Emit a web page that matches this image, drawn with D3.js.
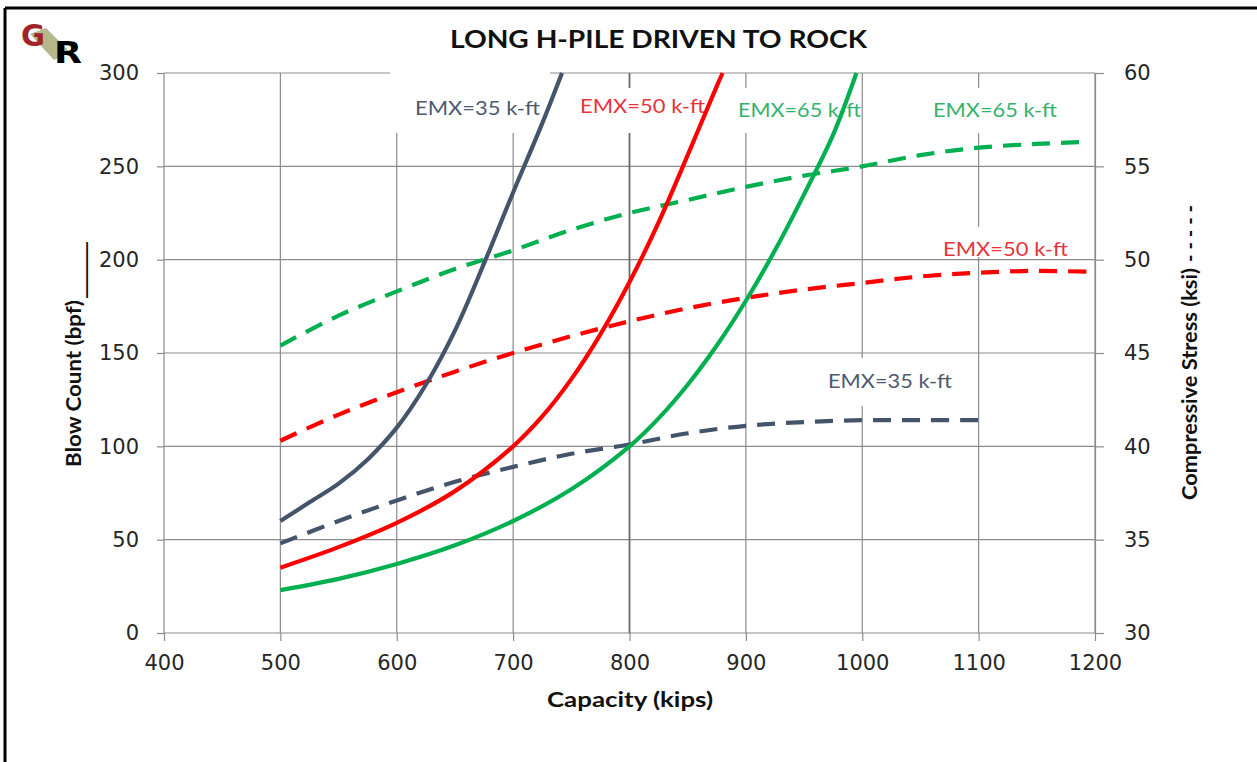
<!DOCTYPE html>
<html>
<head>
<meta charset="utf-8">
<script src="https://cdn.jsdelivr.net/npm/d3@7"></script>
<style>
  html, body { margin: 0; padding: 0; background: #fff; }
  svg { display: block; }
</style>
</head>
<body>
<div id="chart"></div>
<script>
// ---------- data ----------
const title = "LONG H-PILE DRIVEN TO ROCK";
const xTicks = [400, 500, 600, 700, 800, 900, 1000, 1100, 1200];
const leftTicks = [0, 50, 100, 150, 200, 250, 300];
const rightTicks = [30, 35, 40, 45, 50, 55, 60];

// Blow count (solid, left axis)
const capBlow35 = [500, 525, 550, 575, 600, 625, 650, 675, 700, 725, 742];
const blow35    = [60, 70, 80, 93, 110, 133, 162, 198, 236, 273, 300];
const capBlow50 = [500, 550, 600, 650, 700, 725, 750, 775, 800, 825, 850, 875, 880];
const blow50    = [35, 46, 59, 76, 100, 116, 136, 160, 188, 220, 256, 293, 300];
const capBlow65 = [500, 550, 600, 650, 700, 750, 800, 825, 850, 875, 900, 925, 950, 975, 995];
const blow65    = [23, 29, 37, 47, 60, 77, 100, 115, 133, 154, 178, 205, 235, 267, 300];

// Compressive stress (dashed, right axis)
const capStress35 = [500, 550, 600, 650, 700, 750, 800, 850, 900, 950, 1000, 1050, 1100];
const stress35    = [34.8, 36.0, 37.1, 38.1, 38.9, 39.6, 40.1, 40.7, 41.1, 41.3, 41.4, 41.4, 41.4];
const capStress50 = [500, 550, 600, 650, 700, 750, 800, 850, 900, 950, 1000, 1050, 1100, 1150, 1195];
const stress50    = [40.3, 41.7, 42.9, 44.0, 45.0, 45.9, 46.7, 47.4, 47.95, 48.4, 48.75, 49.1, 49.3, 49.4, 49.35];
const capStress65 = [500, 550, 600, 650, 700, 750, 800, 850, 900, 950, 1000, 1050, 1100, 1150, 1190];
const stress65    = [45.4, 47.0, 48.3, 49.5, 50.5, 51.6, 52.5, 53.2, 53.9, 54.5, 55.0, 55.6, 56.0, 56.2, 56.3];

const seriesNames = ["EMX=35 k-ft", "EMX=50 k-ft", "EMX=65 k-ft"];

// ---------- layout ----------
const W = 1257, H = 762;
const colors = { g35: "#44546A", g50: "#FF0000", g65: "#00B050" };
const labelColors = { g35: "#4d5a6e", g50: "#e8333a", g65: "#33b36b" };

const svg = d3.select("#chart").append("svg").attr("width", W).attr("height", H);
svg.append("rect").attr("width", W).attr("height", H).attr("fill", "#fff");

const x = d3.scaleLinear().domain([400, 1200]).range([164, 1095]);
const yL = d3.scaleLinear().domain([0, 300]).range([633, 73]);
const yR = d3.scaleLinear().domain([30, 60]).range([633, 73]);

const gridColor = "#8c8c8c";

// grid lines
const grid = svg.append("g");
grid.selectAll("line.h").data(leftTicks).join("line")
  .attr("x1", x(400)).attr("x2", x(1200))
  .attr("y1", d => yL(d)).attr("y2", d => yL(d))
  .attr("stroke", gridColor).attr("stroke-width", 1.2);
grid.selectAll("line.v").data(xTicks).join("line")
  .attr("x1", d => x(d)).attr("x2", d => x(d))
  .attr("y1", yL(300)).attr("y2", yL(0))
  .attr("stroke", d => d === 800 ? "#6a6a6a" : gridColor)
  .attr("stroke-width", d => d === 800 ? 1.8 : 1.2);

// axes (ticks + labels)
const tickFont = "'DejaVu Sans', Verdana, sans-serif";
const axB = svg.append("g").attr("transform", `translate(0,${yL(0)})`)
  .call(d3.axisBottom(x).tickValues(xTicks).tickSize(8).tickPadding(14).tickFormat(d3.format("d")));
const axL = svg.append("g").attr("transform", `translate(${x(400)},0)`)
  .call(d3.axisLeft(yL).tickValues(leftTicks).tickSize(7).tickPadding(18).tickFormat(d3.format("d")));
const axR = svg.append("g").attr("transform", `translate(${x(1200)},0)`)
  .call(d3.axisRight(yR).tickValues(rightTicks).tickSize(9).tickPadding(20).tickFormat(d3.format("d")));
[axB, axL, axR].forEach(a => {
  a.select(".domain").attr("stroke", gridColor).attr("stroke-width", 1.2);
  a.selectAll(".tick line").attr("stroke", gridColor).attr("stroke-width", 1.2);
  a.selectAll(".tick text").attr("font-family", tickFont).attr("font-size", 21).attr("fill", "#262626");
});
axB.select(".domain").remove();
axL.select(".domain").remove();

// label background boxes (white, hide gridlines behind the text boxes)
const labelFont = "Lato, 'Open Sans', sans-serif";
const labels = [
  { text: seriesNames[0], key: "g35", x1: 415, x2: 540, cy: 108, box: [390, 70, 160, 63] },
  { text: seriesNames[1], key: "g50", x1: 580, x2: 705, cy: 106, box: [500, 88, 215, 45] },
  { text: seriesNames[2], key: "g65", x1: 738, x2: 861, cy: 110, box: [735, 88, 122, 45] },
  { text: seriesNames[2], key: "g65", x1: 933, x2: 1057, cy: 110, box: [925, 88, 140, 45] },
  { text: seriesNames[1], key: "g50", x1: 943, x2: 1068, cy: 249, box: [935, 227, 140, 30] },
  { text: seriesNames[0], key: "g35", x1: 828, x2: 952, cy: 381, box: [820, 358, 140, 48] }
];
svg.append("g").selectAll("rect").data(labels).join("rect")
  .attr("x", d => d.box[0]).attr("y", d => d.box[1])
  .attr("width", d => d.box[2]).attr("height", d => d.box[3])
  .attr("fill", "#fff");
svg.append("g").selectAll("text").data(labels).join("text")
  .attr("x", d => d.x1).attr("y", d => d.cy + 7)
  .attr("font-family", labelFont).attr("font-size", 20)
  .attr("fill", d => labelColors[d.key])
  .attr("textLength", d => d.x2 - d.x1).attr("lengthAdjust", "spacingAndGlyphs")
  .text(d => d.text);

// lines
const curve = d3.curveCatmullRom.alpha(0.5);
const lineL = d3.line().x(d => x(d[0])).y(d => yL(d[1])).curve(curve);
const lineR = d3.line().x(d => x(d[0])).y(d => yR(d[1])).curve(curve);
const zip = (a, b) => a.map((v, i) => [v, b[i]]);

const linesG = svg.append("g").attr("fill", "none").attr("stroke-width", 4.2).attr("stroke-linecap", "butt");
const dashed = [
  { key: "g35", data: zip(capStress35, stress35) },
  { key: "g50", data: zip(capStress50, stress50) },
  { key: "g65", data: zip(capStress65, stress65) }
];
const solid = [
  { key: "g35", data: zip(capBlow35, blow35) },
  { key: "g50", data: zip(capBlow50, blow50) },
  { key: "g65", data: zip(capBlow65, blow65) }
];
linesG.selectAll("path.d").data(dashed).join("path")
  .attr("d", d => lineR(d.data)).attr("stroke", d => colors[d.key])
  .attr("stroke-dasharray", "18,11");
linesG.selectAll("path.s").data(solid).join("path")
  .attr("d", d => lineL(d.data)).attr("stroke", d => colors[d.key])
  .attr("stroke-linejoin", "round");

// titles
const boldFont = "Lato, 'Open Sans', sans-serif";
svg.append("text").attr("x", 450).attr("y", 48)
  .attr("font-family", boldFont).attr("font-weight", "bold").attr("font-size", 24)
  .attr("fill", "#111").attr("textLength", 417).attr("lengthAdjust", "spacingAndGlyphs")
  .text(title);
svg.append("text").attr("x", 547).attr("y", 707)
  .attr("font-family", boldFont).attr("font-weight", "bold").attr("font-size", 21)
  .attr("fill", "#111").attr("textLength", 166).attr("lengthAdjust", "spacingAndGlyphs")
  .text("Capacity (kips)");

// left axis title (rotated)
const lt = svg.append("g").attr("transform", "translate(81,467) rotate(-90)");
lt.append("text").attr("x", 0).attr("y", 0)
  .attr("font-family", boldFont).attr("font-weight", "bold").attr("font-size", 21)
  .attr("fill", "#111").attr("textLength", 167).attr("lengthAdjust", "spacingAndGlyphs")
  .text("Blow Count (bpf)");
lt.append("text").attr("x", 169).attr("y", 2)
  .attr("font-family", "'DejaVu Sans', sans-serif").attr("font-weight", "bold").attr("font-size", 20)
  .attr("fill", "#111").attr("textLength", 56).attr("lengthAdjust", "spacingAndGlyphs")
  .text("____");

// right axis title (rotated)
const rt = svg.append("g").attr("transform", "translate(1197,500) rotate(-90)");
rt.append("text").attr("x", 0).attr("y", 0)
  .attr("font-family", boldFont).attr("font-weight", "bold").attr("font-size", 21)
  .attr("fill", "#111").attr("textLength", 232).attr("lengthAdjust", "spacingAndGlyphs")
  .text("Compressive Stress (ksi)");
rt.append("text").attr("x", 238).attr("y", 0)
  .attr("font-family", boldFont).attr("font-weight", "bold").attr("font-size", 21)
  .attr("fill", "#111").attr("textLength", 57).attr("lengthAdjust", "spacingAndGlyphs")
  .text("- - - - -");

// logo
const logo = svg.append("g");
logo.append("polygon").attr("points", "30,34 46,28 70,52 54,60").attr("fill", "#b5b88a");
logo.append("text").attr("x", 21).attr("y", 46)
  .attr("font-family", "'DejaVu Sans', sans-serif").attr("font-weight", "bold").attr("font-size", 30)
  .attr("fill", "#a3232a").attr("textLength", 24).attr("lengthAdjust", "spacingAndGlyphs").text("G");
logo.append("text").attr("x", 54).attr("y", 63)
  .attr("font-family", "'DejaVu Sans', sans-serif").attr("font-weight", "bold").attr("font-size", 30)
  .attr("fill", "#000").attr("textLength", 28).attr("lengthAdjust", "spacingAndGlyphs").text("R");

// outer frame (top and left)
svg.append("line").attr("x1", 5).attr("x2", W).attr("y1", 8).attr("y2", 8)
  .attr("stroke", "#000").attr("stroke-width", 3);
svg.append("line").attr("x1", 5).attr("x2", 5).attr("y1", 8).attr("y2", H)
  .attr("stroke", "#000").attr("stroke-width", 3);
</script>
</body>
</html>
